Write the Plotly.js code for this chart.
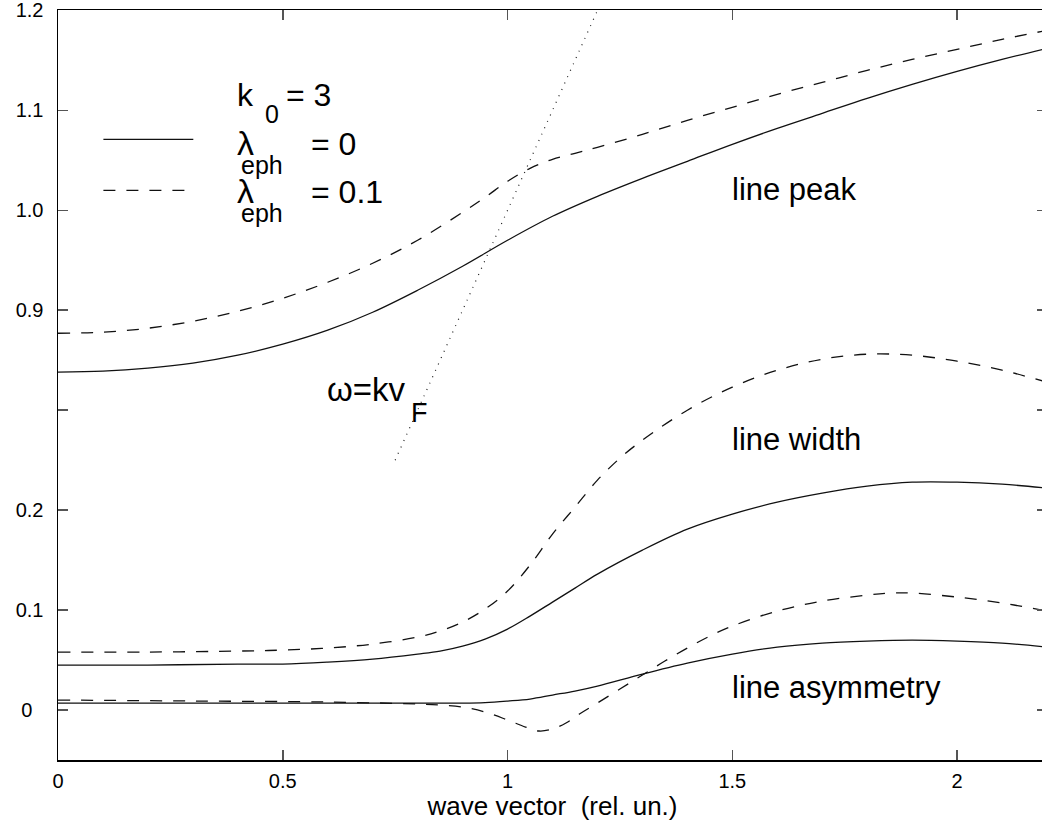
<!DOCTYPE html>
<html>
<head>
<meta charset="utf-8">
<script src="https://cdn.plot.ly/plotly-3.0.1.min.js"></script>
<style>
html,body{margin:0;padding:0;overflow:hidden;background:#fff;}
#chart{width:1048px;height:826px;}
</style>
</head>
<body>
<div id="chart"></div>
<script>
// broken y axis: the upper block (line peak) is drawn shifted down by this amount
const BREAK_SHIFT = 0.5;

// x axis ticks
const xTickValues = [0, 0.5, 1, 1.5, 2];
const xTickLabels = ['0', '0.5', '1', '1.5', '2'];

// y axis ticks (real values; upper block ones get shifted)
const yTickValues = [0, 0.1, 0.2, 0.8, 0.9, 1.0, 1.1, 1.2];
const yTickLabels = ['0\u2007', '0.1', '0.2', '', '0.9', '1.0', '1.1', '1.2'];

// line peak, lambda_eph = 0 (solid)
const peakSolidK = [0, 0.1, 0.2, 0.3, 0.4, 0.5, 0.6, 0.7, 0.8, 0.9, 1.0, 1.1, 1.2, 1.3, 1.4, 1.5, 1.6, 1.7, 1.8, 1.9, 2.0, 2.1, 2.2];
const peakSolidV = [0.838, 0.839, 0.842, 0.847, 0.855, 0.866, 0.880, 0.898, 0.920, 0.944, 0.970, 0.994, 1.014, 1.032, 1.049, 1.066, 1.082, 1.097, 1.112, 1.126, 1.139, 1.151, 1.162];

// line peak, lambda_eph = 0.1 (dashed)
const peakDashK = [0, 0.1, 0.2, 0.3, 0.4, 0.5, 0.6, 0.7, 0.8, 0.9, 0.95, 1.0, 1.05, 1.1, 1.15, 1.2, 1.3, 1.4, 1.5, 1.6, 1.7, 1.8, 1.9, 2.0, 2.1, 2.2];
const peakDashV = [0.877, 0.878, 0.882, 0.889, 0.899, 0.912, 0.928, 0.947, 0.970, 0.998, 1.013, 1.029, 1.042, 1.051, 1.057, 1.063, 1.076, 1.090, 1.103, 1.116, 1.128, 1.140, 1.151, 1.161, 1.171, 1.180];

// line width, lambda_eph = 0 (solid)
const widthSolidK = [0, 0.2, 0.4, 0.5, 0.6, 0.7, 0.8, 0.85, 0.9, 0.95, 1.0, 1.05, 1.1, 1.15, 1.2, 1.3, 1.4, 1.5, 1.6, 1.7, 1.8, 1.9, 2.0, 2.1, 2.2];
const widthSolidV = [0.045, 0.045, 0.046, 0.046, 0.048, 0.051, 0.056, 0.059, 0.064, 0.071, 0.081, 0.094, 0.108, 0.122, 0.136, 0.160, 0.181, 0.196, 0.208, 0.217, 0.224, 0.228, 0.228, 0.226, 0.222];

// line width, lambda_eph = 0.1 (dashed)
const widthDashK = [0, 0.2, 0.4, 0.5, 0.6, 0.7, 0.8, 0.85, 0.9, 0.95, 1.0, 1.05, 1.1, 1.15, 1.2, 1.25, 1.3, 1.4, 1.5, 1.6, 1.7, 1.8, 1.9, 2.0, 2.1, 2.2];
const widthDashV = [0.058, 0.058, 0.059, 0.060, 0.062, 0.066, 0.073, 0.079, 0.088, 0.101, 0.119, 0.145, 0.176, 0.203, 0.230, 0.252, 0.270, 0.300, 0.323, 0.340, 0.351, 0.356, 0.355, 0.349, 0.340, 0.328];

// line asymmetry, lambda_eph = 0 (solid)
const asymSolidK = [0, 0.5, 0.9, 0.95, 1.0, 1.05, 1.1, 1.15, 1.2, 1.3, 1.4, 1.5, 1.6, 1.7, 1.8, 1.9, 2.0, 2.1, 2.2];
const asymSolidV = [0.007, 0.007, 0.007, 0.0075, 0.009, 0.011, 0.015, 0.019, 0.024, 0.036, 0.047, 0.056, 0.063, 0.067, 0.069, 0.070, 0.069, 0.067, 0.063];

// line asymmetry, lambda_eph = 0.1 (dashed)
const asymDashK = [0, 0.3, 0.6, 0.8, 0.85, 0.9, 0.95, 1.0, 1.04, 1.07, 1.1, 1.13, 1.16, 1.2, 1.25, 1.3, 1.35, 1.4, 1.45, 1.5, 1.6, 1.7, 1.8, 1.85, 1.9, 2.0, 2.1, 2.2];
const asymDashV = [0.010, 0.009, 0.008, 0.006, 0.005, 0.003, -0.002, -0.010, -0.017, -0.021, -0.019, -0.013, -0.004, 0.007, 0.021, 0.035, 0.049, 0.062, 0.074, 0.084, 0.099, 0.109, 0.115, 0.117, 0.117, 0.113, 0.107, 0.099];

// omega = k v_F (dotted), real values
const omegaK = [0.75, 1.22];
const omegaW = [0.75, 1.22];

const shiftUp = v => v - BREAK_SHIFT;
const LINE_COLOR = '#111';
const DASH = '12px,11px';

function curve(x, y, dash) {
  return {
    x: x, y: y, type: 'scatter', mode: 'lines',
    line: {color: LINE_COLOR, width: 1.3, dash: dash, shape: 'spline', smoothing: 1},
    hoverinfo: 'skip', showlegend: false
  };
}

const traces = [
  curve(peakSolidK, peakSolidV.map(shiftUp), 'solid'),
  curve(peakDashK, peakDashV.map(shiftUp), DASH),
  curve(widthSolidK, widthSolidV, 'solid'),
  curve(widthDashK, widthDashV, DASH),
  curve(asymSolidK, asymSolidV, 'solid'),
  curve(asymDashK, asymDashV, DASH),
  {
    x: omegaK, y: omegaW.map(shiftUp), type: 'scatter', mode: 'lines',
    line: {color: '#222', width: 1.2, dash: '1px,6px'},
    hoverinfo: 'skip', showlegend: false
  }
];

function label(text, x, y, size) {
  return {text: text, x: x, y: y, xref: 'x', yref: 'y', xanchor: 'left', yanchor: 'bottom',
          showarrow: false, borderpad: 0, font: {size: size, color: '#000'}};
}

const S = 31, L = 32, SS = 25;
const annotations = [
  label('k', 0.397, 0.596, L),
  label('0', 0.458, 0.581, SS),
  label('= 3', 0.504, 0.596, L),
  label('\u03bb', 0.397, 0.547, 34),
  label('eph', 0.405, 0.530, SS),
  label('= 0', 0.560, 0.547, L),
  label('\u03bb', 0.397, 0.499, 34),
  label('eph', 0.405, 0.482, SS),
  label('= 0.1', 0.560, 0.499, L),
  label('line peak', 1.498, 0.502, S),
  label('line width', 1.498, 0.252, S),
  label('line asymmetry', 1.498, 0.004, S),
  label('\u03c9=kv', 0.597, 0.301, 33),
  label('F', 0.784, 0.2815, 27)
];

const shapes = [
  {type: 'line', xref: 'x', yref: 'y', x0: 0.101, x1: 0.301, y0: 0.571, y1: 0.571,
   line: {color: LINE_COLOR, width: 1.3}},
  {type: 'line', xref: 'x', yref: 'y', x0: 0.101, x1: 0.301, y0: 0.520, y1: 0.520,
   line: {color: LINE_COLOR, width: 1.3, dash: DASH}}
];

const axisCommon = {
  ticks: 'inside', ticklen: 10, tickwidth: 1.5, tickcolor: '#555',
  showline: true, linecolor: '#000', linewidth: 1.5, mirror: 'ticks',
  showgrid: false, zeroline: false, automargin: false,
  ticklabeloverflow: 'allow',
  tickfont: {size: 20, color: '#000'}
};

const layout = {
  width: 1048, height: 826,
  margin: {l: 58, r: 1, t: 10, b: 66},
  paper_bgcolor: '#fff', plot_bgcolor: '#fff',
  font: {family: 'Liberation Sans, Arial, Helvetica, sans-serif', color: '#000'},
  showlegend: false,
  xaxis: Object.assign({}, axisCommon, {
    range: [0, 2.2], tickmode: 'array', tickvals: xTickValues, ticktext: xTickLabels,
    ticklabelstandoff: 2,
    title: {text: 'wave vector\u00a0 (rel. un.)', font: {size: 26, color: '#000'}, standoff: 0}
  }),
  yaxis: Object.assign({}, axisCommon, {
    range: [-0.05, 0.7004], tickmode: 'array',
    tickvals: yTickValues.map(v => v >= 0.75 ? shiftUp(v) : v), ticktext: yTickLabels,
    ticklabelstandoff: 9
  }),
  annotations: annotations,
  shapes: shapes
};

Plotly.newPlot('chart', traces, layout, {staticPlot: true, displayModeBar: false});
</script>
</body>
</html>
